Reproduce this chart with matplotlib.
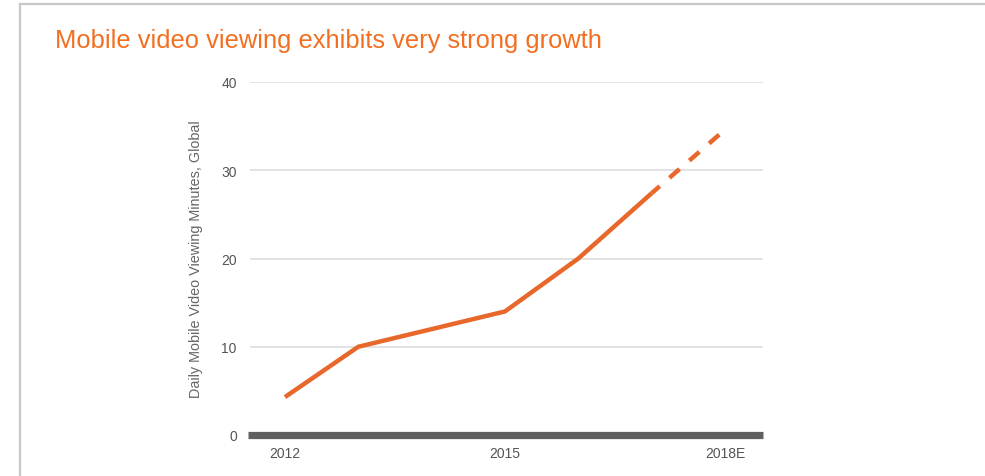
import matplotlib
matplotlib.use("Agg")
import matplotlib.pyplot as plt
from matplotlib.lines import Line2D

# data
years = [2012, 2013, 2014, 2015, 2016, 2017]
minutes = [4.3, 10.0, 12.0, 14.0, 20.0, 27.4]
proj_years = [2017, 2018]
proj_minutes = [27.4, 34.6]
tick_years = [2012, 2015, 2018]
tick_labels = ["2012", "2015", "2018E"]
y_ticks = [0, 10, 20, 30, 40]

plt.rcParams['font.family'] = ['Liberation Sans', 'DejaVu Sans']

orange = '#e8672a'

fig = plt.figure(figsize=(9.85, 4.77), dpi=100)
ax = fig.add_axes([250 / 985, 1 - 436 / 477, 513 / 985, 353 / 477])

# grid lines
for v in y_ticks[1:]:
    ax.axhline(v, color='#e2e2e2', lw=1.4, zorder=1)
# dark base line
ax.axhline(0, xmin=-0.004, xmax=1.0, color='#606060', lw=5.2, zorder=2,
           clip_on=False, solid_capstyle='butt')

ax.plot(years, minutes, color=orange, lw=3.2, solid_capstyle='butt',
        solid_joinstyle='miter', zorder=3)
ax.plot(proj_years, proj_minutes, color=orange, lw=3.2,
        linestyle=(0.6, (3.0, 2.9)), dash_capstyle='butt', zorder=3)

ax.set_xlim(2011.523, 2018.518)
ax.set_ylim(0, 40)
ax.set_xticks(tick_years)
ax.set_xticklabels(tick_labels)
ax.set_yticks(y_ticks)
ax.tick_params(axis='both', length=0, labelsize=10, labelcolor='#555555')
ax.tick_params(axis='y', pad=9.5)
ax.tick_params(axis='x', pad=8)
for s in ax.spines.values():
    s.set_visible(False)

ax.set_ylabel("Daily Mobile Video Viewing Minutes, Global", fontsize=10.4,
              color='#666666')
ax.yaxis.set_label_coords(-0.092, 0.5)

fig.text(55 / 985, 1 - 48 / 477, "Mobile video viewing exhibits very strong growth",
         fontsize=18.4, color='#f26f21', ha='left', va='baseline')

# light frame at top and left
fig.add_artist(Line2D([20 / 985, 1], [1 - 5 / 477, 1 - 5 / 477],
                      transform=fig.transFigure, color='#c8c8c8', lw=1.6))
fig.add_artist(Line2D([20 / 985, 20 / 985], [0, 1 - 5 / 477],
                      transform=fig.transFigure, color='#c8c8c8', lw=1.6))

fig.savefig('out.png', dpi=100)
